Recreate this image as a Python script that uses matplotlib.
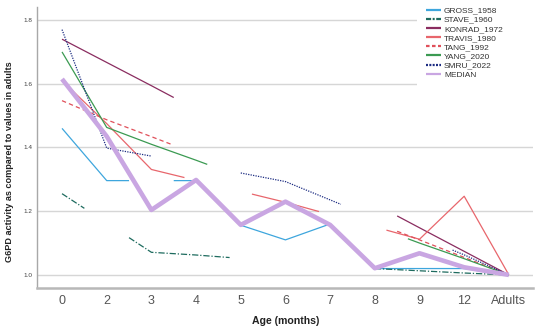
import numpy as np
import matplotlib
matplotlib.use("Agg")
import matplotlib.pyplot as plt
from matplotlib.lines import Line2D
from matplotlib.patches import Rectangle

plt.rcParams['font.family'] = ['Liberation Sans', 'DejaVu Sans']

nan = np.nan
categories = ["0", "2", "3", "4", "5", "6", "7", "8", "9", "12", "Adults"]

gross_1958 = [1.46, 1.296, nan, 1.296, 1.156, 1.11, 1.16, 1.02, 1.02, 1.02, 1.0]
stave_1960 = [1.255, nan, 1.071, 1.0625, nan, nan, nan, 1.02, 1.013, 1.006, 1.0]
konrad_1972 = [1.74, 1.667, 1.594, nan, nan, nan, nan, nan, 1.148, 1.074, 1.0]
travis_1980 = [1.61, 1.475, 1.331, nan, nan, 1.228, nan, nan, 1.112, 1.247, 1.0]
tang_1992 = [1.547, 1.487, 1.434, nan, nan, nan, nan, nan, 1.11, 1.055, 1.0]
yang_2020 = [1.70, 1.463, 1.41, 1.36, nan, nan, nan, nan, 1.10, 1.051, 1.0]
smru_2022 = [1.77, 1.398, 1.373, nan, 1.32, 1.293, nan, nan, nan, 1.063, 1.0]
median = [1.615, 1.435, 1.204, 1.298, 1.157, 1.23, 1.157, 1.021, 1.068, 1.024, 1.0]

# hidden stretches of each line (in category-index units), as they appear in the source
gross_gaps = [(1.5, 2.5)]
stave_gaps = [(0.5, 1.5), (3.75, 7.0)]
konrad_gaps = [(2.5, 7.5)]
travis_gaps = [(2.74, 4.25), (5.75, 7.26)]
tang_gaps = [(2.45, 7.5)]
yang_gaps = [(3.25, 7.74)]
smru_gaps = [(2.0, 4.0), (6.24, 8.74)]
median_gaps = []

series = [
    ("GROSS_1958", gross_1958, gross_gaps,
     dict(color="#3ea6dd", lw=0.9, ls="-", lls="-")),
    ("STAVE_1960", stave_1960, stave_gaps,
     dict(color="#1d6b5e", lw=0.9, ls=(0, (5, 1.5, 1, 1.5)), lls=(0, (2.3, 0.7, 0.9, 0.7)))),
    ("KONRAD_1972", konrad_1972, konrad_gaps,
     dict(color="#8a2d60", lw=0.9, ls="-", lls="-")),
    ("TRAVIS_1980", travis_1980, travis_gaps,
     dict(color="#e8666c", lw=0.9, ls="-", lls="-")),
    ("TANG_1992", tang_1992, tang_gaps,
     dict(color="#e0505a", lw=0.9, ls=(0, (3.5, 2.5)), lls=(0, (1.6, 1.1)))),
    ("YANG_2020", yang_2020, yang_gaps,
     dict(color="#3b9a52", lw=0.9, ls="-", lls="-")),
    ("SMRU_2022", smru_2022, smru_gaps,
     dict(color="#1c2c82", lw=0.9, ls=(0, (1, 1)), lls=(0, (0.9, 0.6)))),
    ("MEDIAN", median, median_gaps,
     dict(color="#c9a6e2", lw=3.3, ls="-", lls="-")),
]


def build_path(vals, gaps):
    v = np.asarray(vals, dtype=float)
    idx = np.arange(len(v))
    ok = ~np.isnan(v)
    px, py = idx[ok].astype(float), v[ok]
    xs = set(px.tolist())
    for a, b in gaps:
        xs.add(a)
        xs.add(b)
    xs = np.array(sorted(xs))
    for a, b in gaps:
        xs = xs[~((xs > a) & (xs < b))]
    ys = np.interp(xs, px, py)
    outx, outy = [], []
    for i, x in enumerate(xs):
        outx.append(x)
        outy.append(ys[i])
        for a, b in gaps:
            if abs(x - a) < 1e-9:
                outx.append((a + b) / 2)
                outy.append(np.nan)
    return np.array(outx), np.array(outy)


fig = plt.figure(figsize=(5.4, 3.32), dpi=100)
ax = fig.add_axes([37 / 540, 1 - 288.3 / 332, (533 - 37) / 540, (288.3 - 7) / 332])

for name, vals, gaps, st in series:
    x, y = build_path(vals, gaps)
    ax.plot(x, y, color=st["color"], lw=st["lw"], ls=st["ls"], solid_capstyle="butt",
            dash_capstyle="butt", zorder=3 if name == "MEDIAN" else 2)

ax.set_xlim(-0.56, 10.54)
ax.set_ylim(0.958, 1.841)
ax.set_xticks(range(len(categories)))
ax.set_xticklabels(categories)
ax.set_yticks([1.0, 1.2, 1.4, 1.6, 1.8])
ax.set_yticklabels(["1.0", "1.2", "1.4", "1.6", "1.8"])
ax.tick_params(axis="x", length=0, pad=5, labelsize=9, labelcolor="#555555")
ax.tick_params(axis="y", length=0, pad=3, labelsize=4.6, labelcolor="#404040")
ax.grid(axis="y", color="#d6d6d6", lw=1.0)
ax.set_axisbelow(True)
for s in ["top", "right"]:
    ax.spines[s].set_visible(False)
ax.spines["left"].set_color("#a8a8a8")
ax.spines["left"].set_linewidth(1.0)
ax.spines["bottom"].set_color("#b8b8b8")
ax.spines["bottom"].set_linewidth(1.8)

# white box behind legend (hides gridlines there, as in the source)
ax.add_patch(Rectangle((417 / 540, 1 - 100 / 332), 123 / 540, 100 / 332,
                       transform=fig.transFigure, facecolor="white", edgecolor="none",
                       zorder=1, clip_on=False))

handles = [Line2D([], [], color=st["color"], lw=1.6, ls=st["lls"],
                  solid_capstyle="butt", dash_capstyle="butt")
           for n, _, _, st in series]
leg = fig.legend(handles, [n for n, _, _, _ in series], loc="upper left",
                 bbox_to_anchor=(424 / 540, 1 - 5 / 332), frameon=False, fontsize=6,
                 handlelength=1.85, handletextpad=0.35, labelspacing=0.16,
                 borderpad=0.2, borderaxespad=0)
for t in leg.get_texts():
    t.set_color("#333333")

fig.text(285.5 / 540, 1 - 321 / 332, "Age (months)", ha="center", va="center",
         fontsize=7.6, fontweight="bold", color="#222222")
fig.text(9.5 / 540, 1 - 162 / 332, "G6PD activity as compared to values in adults",
         ha="center", va="center", rotation=90, fontsize=6.6, fontweight="bold",
         color="#222222")

fig.savefig("out.png", dpi=100)
